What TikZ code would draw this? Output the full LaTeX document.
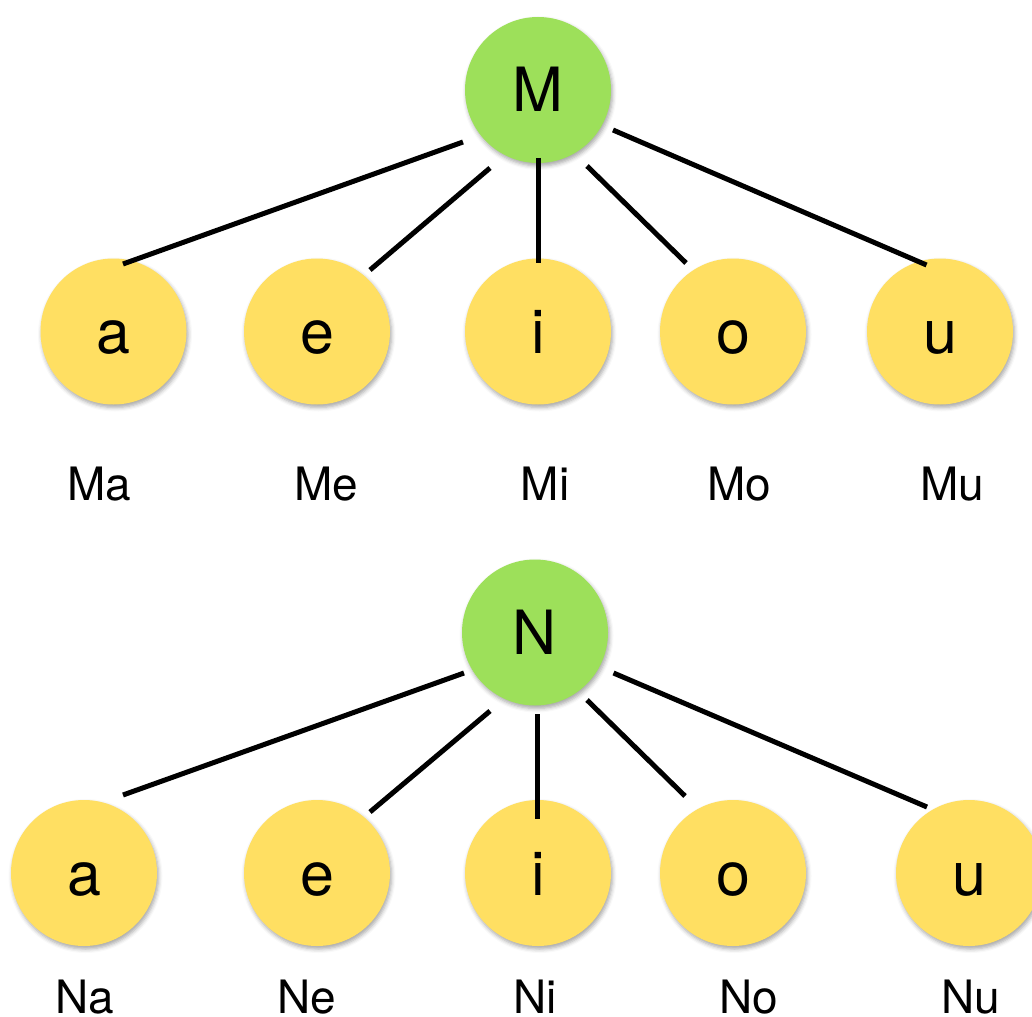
\documentclass[tikz,border=0pt]{standalone}
\usepackage{fontspec}
\setmainfont{TeX Gyre Heros}
\usetikzlibrary{shadows.blur}
\definecolor{rootgreen}{RGB}{157,224,90}
\definecolor{leafyellow}{RGB}{255,223,98}
\tikzset{
  x=1pt, y=-1pt,
  vnode/.style={circle, minimum size=146pt, inner sep=0pt,
    font=\fontsize{61}{61}\selectfont, text height=44pt, text depth=0pt,
    blur shadow={shadow xshift=1.5pt, shadow yshift=-3pt, shadow blur radius=4pt, shadow opacity=35}},
  rootnode/.style={vnode, fill=rootgreen},
  leafnode/.style={vnode, fill=leafyellow},
  syl/.style={anchor=base, inner sep=0pt, font=\fontsize{46}{46}\selectfont},
  edge/.style={line width=5pt, black}
}
\begin{document}
\begin{tikzpicture}
\useasboundingbox (0,0) rectangle (1032,1016);
% top tree
\node[rootnode] (M) at (538,90) {M};
\node[leafnode] (a1) at (113.5,331.5) {a};
\node[leafnode] (e1) at (317,331.5) {e};
\node[leafnode] (i1) at (538,331.5) {i};
\node[leafnode] (o1) at (733,331.5) {o};
\node[leafnode] (u1) at (940,331.5) {u};
\node[syl] (Ma) at (99.5,500) {Ma};
\node[syl] (Me) at (326.5,500) {Me};
\node[syl] (Mi) at (545,500) {Mi};
\node[syl] (Mo) at (739,500) {Mo};
\node[syl] (Mu) at (952,500) {Mu};
\draw[edge] ([shift={(-75,52)}]M.center) -- ([shift={(9.5,-67.5)}]a1.center);
\draw[edge] ([shift={(-48,78)}]M.center) -- ([shift={(53,-61.5)}]e1.center);
\draw[edge] ([shift={(0,68)}]M.center) -- ([shift={(0,-68.5)}]i1.center);
\draw[edge] ([shift={(49,76)}]M.center) -- ([shift={(-47,-68.5)}]o1.center);
\draw[edge] ([shift={(75,40)}]M.center) -- ([shift={(-13.5,-66.5)}]u1.center);
% bottom tree
\node[rootnode] (N) at (535,632.5) {N};
\node[leafnode] (a2) at (84,873) {a};
\node[leafnode] (e2) at (317,873) {e};
\node[leafnode] (i2) at (538,873) {i};
\node[leafnode] (o2) at (733,873) {o};
\node[leafnode] (u2) at (969,873) {u};
\node[syl] (Na) at (85,1013) {Na};
\node[syl] (Ne) at (306.5,1013) {Ne};
\node[syl] (Ni) at (535,1013) {Ni};
\node[syl] (No) at (749,1013) {No};
\node[syl] (Nu) at (971,1013) {Nu};
\draw[edge] ([shift={(-71,40.5)}]N.center) -- ([shift={(39,-78)}]a2.center);
\draw[edge] ([shift={(-45,78.5)}]N.center) -- ([shift={(53,-61)}]e2.center);
\draw[edge] ([shift={(2,81.5)}]N.center) -- ([shift={(-1,-54)}]i2.center);
\draw[edge] ([shift={(52,67.5)}]N.center) -- ([shift={(-48,-77)}]o2.center);
\draw[edge] ([shift={(78.5,40.5)}]N.center) -- ([shift={(-42,-66)}]u2.center);
\end{tikzpicture}
\end{document}
